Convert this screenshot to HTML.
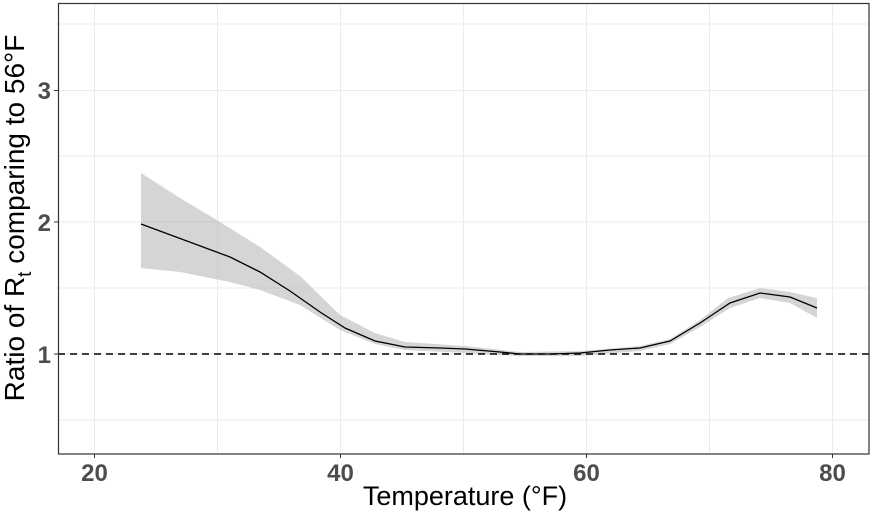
<!DOCTYPE html>
<html><head><meta charset="utf-8"><style>body{margin:0;background:#fff}svg{display:block}</style></head>
<body>
<svg width="875" height="513" xmlns="http://www.w3.org/2000/svg" font-family="Liberation Sans, sans-serif">
<rect x="0" y="0" width="875" height="513" fill="#fff"/>
<g stroke="#ebebeb" stroke-width="1">
<line x1="58" x2="869" y1="24" y2="24"/><line x1="58" x2="869" y1="156" y2="156"/><line x1="58" x2="869" y1="288" y2="288"/><line x1="58" x2="869" y1="420" y2="420"/>
<line x1="58" x2="869" y1="90.5" y2="90.5"/><line x1="58" x2="869" y1="222" y2="222"/><line x1="58" x2="869" y1="354" y2="354"/>
<line y1="3" y2="454" x1="94.5" x2="94.5"/><line y1="3" y2="454" x1="217.5" x2="217.5"/><line y1="3" y2="454" x1="340.5" x2="340.5"/><line y1="3" y2="454" x1="463.5" x2="463.5"/><line y1="3" y2="454" x1="586.5" x2="586.5"/><line y1="3" y2="454" x1="709.5" x2="709.5"/><line y1="3" y2="454" x1="832.5" x2="832.5"/>
</g>
<polygon fill="#b3b3b3" fill-opacity="0.55" points="141,173 180,198 220,222 260,247 300,276 340,315 375,333 405,342 465,346 520,352 580,351 640,346 670,339 700,320 728,298 760,288 790,292 817,298 817,318 790,303 760,298 730,308 700,327 670,344 640,351 580,356 520,356 465,353 405,350 375,344 340,330 300,305 260,290 230,282 180,272 141,268"/>
<line x1="58" x2="869" y1="354" y2="354" stroke="#000" stroke-width="1.4" stroke-dasharray="7,5"/>
<polyline fill="none" stroke="#000" stroke-width="1.3" points="141,224 230,257 260,272 290,291 320,312 345,328 375,341 405,347 440,348 465,349 500,352 520,354 550,354 580,353 610,350 640,348 670,341 700,323 730,303 760,293 790,297 817,308"/>
<rect x="58.5" y="3.5" width="810.5" height="450.5" fill="none" stroke="#333" stroke-width="1.2"/>
<g stroke="#333"><line x1="54" x2="58" y1="90.5" y2="90.5"/><line x1="54" x2="58" y1="222" y2="222"/><line x1="54" x2="58" y1="354" y2="354"/>
<line y1="454" y2="458" x1="94.5" x2="94.5"/><line y1="454" y2="458" x1="340.5" x2="340.5"/><line y1="454" y2="458" x1="586.5" x2="586.5"/><line y1="454" y2="458" x1="832.5" x2="832.5"/></g>
<g fill="#4d4d4d" font-weight="bold" font-size="24">
<text x="51" y="99" text-anchor="end">3</text><text x="51" y="231" text-anchor="end">2</text><text x="51" y="363" text-anchor="end">1</text>
<text x="94.5" y="481" text-anchor="middle">20</text><text x="340.5" y="481" text-anchor="middle">40</text><text x="586.5" y="481" text-anchor="middle">60</text><text x="832.5" y="481" text-anchor="middle">80</text>
</g>
<text x="465" y="505" text-anchor="middle" font-size="27" fill="#000">Temperature (°F)</text>
<text transform="translate(24,218) rotate(-90)" text-anchor="middle" font-size="28" fill="#000">Ratio of R<tspan font-size="19" dy="7">t</tspan><tspan dy="-7"> comparing to 56°F</tspan></text>
</svg>
</body></html>
